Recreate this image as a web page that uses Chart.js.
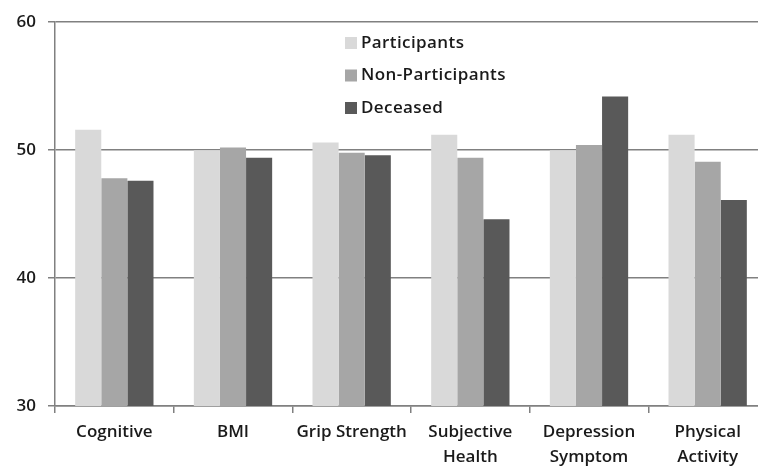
<!DOCTYPE html>
<html><head><meta charset="utf-8">
<script src="https://cdn.jsdelivr.net/npm/chart.js@4/dist/chart.umd.min.js"></script>
<style>
html,body{margin:0;padding:0;background:#fff;overflow:hidden;width:758px;height:472px;}
#wrap{position:absolute;left:0;top:0;width:768px;height:472px;}
</style></head>
<body><div id="wrap"><canvas id="c" width="768" height="472"></canvas></div>
<script>
const categories = ["Cognitive","BMI","Grip Strength",["Subjective","Health"],["Depression","Symptom"],["Physical","Activity"]];
const participants = [51.6, 50.0, 50.6, 51.2, 50.0, 51.2];
const nonParticipants = [47.8, 50.2, 49.8, 49.4, 50.4, 49.1];
const deceased = [47.6, 49.4, 49.6, 44.6, 54.2, 46.1];
const seriesNames = ["Participants","Non-Participants","Deceased"];
const yTicks = [30, 40, 50, 60];
const colors = ["#d9d9d9","#a6a6a6","#595959"];
const FONT = "'Open Sans', sans-serif";

const legendPlugin = {
  id:'insideLegend',
  afterDatasetsDraw(chart){
    const ctx = chart.ctx;
    ctx.save();
    ctx.font = "600 17px " + FONT;
    try { ctx.letterSpacing = '0.4px'; } catch(e) {}
    ctx.textBaseline = 'middle';
    chart.data.datasets.forEach((ds,i)=>{
      const y = 43 + i*32.5;
      ctx.fillStyle = ds.backgroundColor;
      ctx.fillRect(345, y-6, 12, 12);
      ctx.fillStyle = '#1a1a1a';
      ctx.fillText(ds.label, 361, y);
    });
    ctx.restore();
  }
};

new Chart(document.getElementById('c'), {
  type:'bar',
  data:{
    labels: categories,
    datasets:[
      {label:seriesNames[0], data:participants, backgroundColor:colors[0]},
      {label:seriesNames[1], data:nonParticipants, backgroundColor:colors[1]},
      {label:seriesNames[2], data:deceased, backgroundColor:colors[2]}
    ]
  },
  options:{
    responsive:false,
    animation:false,
    devicePixelRatio:1,
    layout:{padding:{top:18,left:0,right:1,bottom:0}},
    datasets:{bar:{barPercentage:1, categoryPercentage:0.66}},
    plugins:{legend:{display:false}, tooltip:{enabled:false}},
    scales:{
      x:{
        grid:{offset:true, drawOnChartArea:false, color:'#808080', tickLength:7, lineWidth:1.5},
        border:{color:'#808080', width:1.5},
        ticks:{color:'#1a1a1a', font:{family:FONT, size:17, weight:'600', lineHeight:1.47}, padding:7, maxRotation:0, autoSkip:false},
        afterFit(s){ s.height = 66; }
      },
      y:{
        min:30, max:60,
        afterBuildTicks(s){ s.ticks = yTicks.map(v=>({value:v})); },
        grid:{color:'#808080', tickLength:7, lineWidth:1.5},
        border:{color:'#808080', width:1.5},
        ticks:{color:'#1a1a1a', font:{family:FONT, size:17, weight:'600'}, padding:12},
        afterFit(s){ s.width = 55; }
      }
    }
  },
  plugins:[legendPlugin]
});
</script></body></html>
